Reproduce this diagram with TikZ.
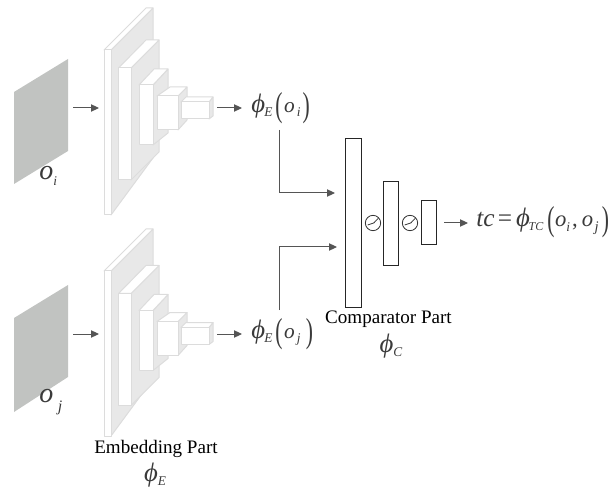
\documentclass[tikz,border=0pt]{standalone}
\usepackage{fontspec}
\setmainfont{Liberation Serif}
\usetikzlibrary{arrows.meta}
\definecolor{edgegray}{HTML}{DCDCDC}
\definecolor{sidegray}{HTML}{E8E8E8}
\definecolor{imggray}{HTML}{C1C3C1}
\definecolor{inkgray}{HTML}{555555}
\definecolor{mathgray}{HTML}{3A3A3A}
\newcommand{\subs}[2][-3pt]{\raisebox{#1}{\fontsize{10}{10}\selectfont\itshape #2}}
\newcommand{\bigp}[1]{\raisebox{-2.6pt}{\scalebox{0.62}[1]{\fontsize{26}{26}\selectfont\upshape #1}}}
\newcommand{\phibig}{{\fontsize{20}{20}\selectfont ϕ}}
\tikzset{
  x=0.75pt,y=-0.75pt,
  layer/.style={draw=edgegray,fill=sidegray,line width=0.75pt,line join=round},
  front/.style={draw=edgegray,fill=white,line width=0.75pt,line join=round},
  picture/.style={fill=imggray,draw=none},
  flow/.style={draw=inkgray,line width=0.75pt,-{Triangle[length=6pt,width=5.5pt]}},
  bar/.style={draw=black!85,fill=white,line width=0.75pt,inner sep=0pt,minimum width=11.5pt},
  gate/.style={circle,draw=black!80,line width=0.6pt,minimum size=11.5pt,inner sep=0pt},
  caption/.style={font=\fontsize{14.3}{16}\selectfont,text=black,inner sep=0pt},
  formula/.style={font=\fontsize{16}{18}\selectfont\itshape,text=mathgray,inner sep=0pt},
}
\newcommand{\cnnblock}[2]{%
  \begin{scope}[yshift=#1*-0.75pt]
    \filldraw[layer] (111,50)--(153,8)--(153,158)--(111,215)--cycle;
    \filldraw[front] (104,50)--(146,8)--(153,8)--(111,50)--cycle;
    \filldraw[front] (104,50) rectangle (111,215);
  \end{scope}
  \begin{scope}[yshift=#2*-0.75pt]
    \filldraw[layer] (131,68)--(159,40)--(159,152)--(131,180)--cycle;
    \filldraw[front] (118.5,68)--(146,40)--(159,40)--(131,68)--cycle;
    \filldraw[front] (118.5,68) rectangle (131,180);
    \filldraw[layer] (153,85)--(168,69)--(168,133)--(153,145)--cycle;
    \filldraw[front] (139,85)--(154,69)--(168,69)--(153,85)--cycle;
    \filldraw[front] (139,85) rectangle (153,145);
    \filldraw[layer] (178,96)--(187,87)--(187,120)--(178,130)--cycle;
    \filldraw[front] (157,96)--(170,87)--(187,87)--(178,96)--cycle;
    \filldraw[front] (157,96) rectangle (178,130);
    \filldraw[layer] (209,102)--(213,97)--(213,116)--(209,119)--cycle;
    \filldraw[front] (181,102)--(186,97)--(213,97)--(209,102)--cycle;
    \filldraw[front] (181,102) rectangle (209,119);
  \end{scope}
}
\begin{document}
\begin{tikzpicture}
\useasboundingbox (0,0) rectangle (613,491);
\fill[picture] (14,92)--(68,59)--(68,151)--(14,184)--cycle;
\fill[picture] (14,318)--(68,285)--(68,377)--(14,412)--cycle;
\cnnblock{0}{0}
\cnnblock{221}{225.5}
\node[formula,font=\fontsize{21}{22}\selectfont\itshape,anchor=west] (inA) at (39,176) {o\subs[-4pt]{i}};
\node[formula,font=\fontsize{21}{22}\selectfont\itshape,anchor=west] (inB) at (39,402) {o\,\subs[-7pt]{\fontsize{12}{12}\selectfont j}};
\node[formula,anchor=west] (phiA) at (251,108) {\phibig\hspace{-0.5pt}\subs{E}\hspace{2.2pt}\bigp{(}\hspace{1.2pt}o\hspace{1.5pt}\subs{i}\hspace{1.5pt}\bigp{)}};
\node[formula,anchor=west] (phiB) at (251,334) {\phibig\hspace{-0.5pt}\subs{E}\hspace{2.2pt}\bigp{(}\hspace{1.2pt}o\hspace{1.5pt}\subs{j}\hspace{4pt}\bigp{)}};
\node[bar,minimum height=126pt] (barA) at (353.5,223) {};
\node[bar,minimum height=62.5pt] (barB) at (391,223.5) {};
\node[bar,minimum height=33pt] (barC) at (429,223) {};
\node[gate] (gateA) at (373,223) {};
\node[gate] (gateB) at (410,223) {};
\draw[black!80,line width=0.6pt] (367.7,225)--(373.7,223)--(378.3,218.3);
\draw[black!80,line width=0.6pt] (404.7,225)--(410.7,223)--(415.3,218.3);
\node[formula,anchor=west] (out) at (476,222) {\fontsize{19}{19}\selectfont tc\hspace{2.5pt}\upshape{=}\hspace{3pt}\itshape\phibig\hspace{-1pt}{\fontsize{9}{9}\selectfont\raisebox{-3pt}{TC}}\hspace{3pt}\bigp{(}\hspace{0.5pt}\fontsize{17}{17}\selectfont o\subs[-3.5pt]{i}\hspace{1.5pt}\upshape,\itshape\hspace{3pt}o\hspace{1pt}\subs[-3.5pt]{\fontsize{11}{11}\selectfont j}\hspace{2.5pt}\bigp{)}};
\node[caption] (capC) at (388.5,319) {Comparator Part};
\node[formula] (phiC) at (391,346) {\phibig\subs{C}};
\node[caption] (capE) at (156,449) {Embedding Part};
\node[formula] (phiE) at (155,475) {\phibig\subs{E}};
\coordinate (a1) at (73,108); \coordinate (a2) at (99,108);
\coordinate (a3) at (217,108); \coordinate (a4) at (242,108);
\coordinate (b1) at (73,334); \coordinate (b2) at (99,334);
\coordinate (b3) at (217,334); \coordinate (b4) at (242,334);
\coordinate (sA) at (279,130); \coordinate (tA) at (335,193);
\coordinate (sB) at (279,310); \coordinate (tB) at (337,247);
\coordinate (oS) at (444,223); \coordinate (oT) at (468,223);
\draw[flow] (a1)--(a2);
\draw[flow] (a3)--(a4);
\draw[flow] (b1)--(b2);
\draw[flow] (b3)--(b4);
\draw[flow] (sA)|-(tA);
\draw[flow] (sB)|-(tB);
\draw[flow] (oS)--(oT);
\end{tikzpicture}
\end{document}
